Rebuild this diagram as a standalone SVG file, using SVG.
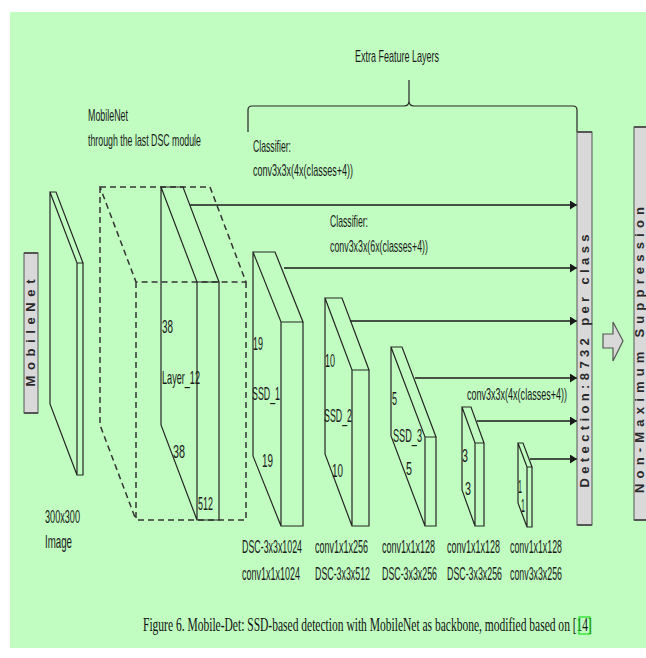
<svg xmlns="http://www.w3.org/2000/svg" width="646" height="658" viewBox="0 0 646 658">
  <defs>
    <marker id="head" markerUnits="userSpaceOnUse" markerWidth="8" markerHeight="9" refX="7" refY="4.5" orient="auto">
      <path d="M0,0 L7,4.5 L0,9 Z" fill="#1a1a1a"/>
    </marker>
    <style>
      .bg { fill: #c1fdc1; }
      .edge { fill: none; stroke: #262626; stroke-width: 1.2; stroke-linejoin: miter; }
      .dash { fill: none; stroke: #333; stroke-width: 1.5; stroke-dasharray: 6 4; }
      .flow { fill: none; stroke: #1a1a1a; stroke-width: 1.5; marker-end: url(#head); }
      .bar { fill: #d9d9d9; stroke: #555; stroke-width: 1; }
      .cap { fill: none; stroke: #555; stroke-width: 2.2; }
      .t { font-family: "Liberation Sans", Arial, sans-serif; font-size: 18px; fill: #1a1a1a; }
      .s { font-family: "Liberation Sans", Arial, sans-serif; font-size: 16px; fill: #1a1a1a; }
      .v { font-family: "Liberation Sans", Arial, sans-serif; font-size: 13px; font-weight: bold; fill: #2a2a2a; }
      .fig { font-family: "Liberation Serif", "Times New Roman", serif; font-size: 18px; fill: #111; }
    </style>
  </defs>

  <!-- page background -->
  <rect class="bg" x="10" y="12" width="636" height="636"/>

  <!-- headings (narrow lettering: horizontal scale 0.57) -->
  <g id="heading-extra">
    <text class="s" transform="translate(355,62) scale(0.57,1)" textLength="147.4" lengthAdjust="spacingAndGlyphs">Extra Feature Layers</text>
    <path class="edge" d="M248,132 L248,110 Q248,106 252,106 L404,106 Q409,106 409,101 L409,80 M409,101 Q409,106 414,106 L573,106 Q577,106 577,110 L577,132"/>
  </g>
  <g id="heading-mobilenet">
    <text class="s" transform="translate(88,121) scale(0.57,1)" textLength="70.2" lengthAdjust="spacingAndGlyphs">MobileNet</text>
    <text class="s" transform="translate(88,146) scale(0.57,1)" textLength="198.2" lengthAdjust="spacingAndGlyphs">through the last DSC module</text>
  </g>

  <!-- MobileNet side tag -->
  <g id="tag-mobilenet">
    <rect class="bar" x="24" y="253" width="14" height="160"/>
    <path class="cap" d="M24,253 H38 M24,413 H38"/>
    <text class="v" transform="translate(35,333) rotate(-90)" text-anchor="middle" textLength="107" lengthAdjust="spacing">MobileNet</text>
  </g>

  <!-- input image slab -->
  <g id="input-image">
    <path class="edge" d="M50,192 L56,192 L83,263 L77,263 Z M77,263 V475 H83 V263 M50,192 V404 L77,475"/>
    <text class="t" transform="translate(45,523) scale(0.57,1)" textLength="61.4" lengthAdjust="spacingAndGlyphs">300x300</text>
    <text class="t" transform="translate(45,548) scale(0.57,1)" textLength="47.4" lengthAdjust="spacingAndGlyphs">Image</text>
  </g>

  <!-- MobileNet trunk (dashed) -->
  <g id="mobilenet-trunk">
    <path class="dash" d="M100,187 L210,187 L246,282 L136,282 Z M136,282 V520 H246 V282 M100,187 V425 L136,520"/>
  </g>

  <!-- Layer_12 feature map -->
  <g id="layer12">
    <path class="edge" d="M161,187 L183,187 L219,282 L197,282 Z M197,282 V520 H219 V282 M161,187 V425 L197,520"/>
    <text class="t" transform="translate(162,333) scale(0.57,1)" textLength="19.3" lengthAdjust="spacingAndGlyphs">38</text>
    <text class="t" transform="translate(162,384) scale(0.57,1)" textLength="66.7" lengthAdjust="spacingAndGlyphs">Layer_12</text>
    <text class="t" transform="translate(173,458) scale(0.57,1)" textLength="21.1" lengthAdjust="spacingAndGlyphs">38</text>
    <text class="t" transform="translate(198,510) scale(0.57,1)" textLength="26.3" lengthAdjust="spacingAndGlyphs">512</text>
  </g>

  <!-- SSD_1 -->
  <g id="ssd1">
    <path class="edge" d="M253,252 L275,252 L303,322 L281,322 Z M281,322 V526 H303 V322 M253,252 V456 L281,526"/>
    <text class="t" transform="translate(253,350) scale(0.57,1)" textLength="17.5" lengthAdjust="spacingAndGlyphs">19</text>
    <text class="t" transform="translate(252,400) scale(0.57,1)" textLength="49.1" lengthAdjust="spacingAndGlyphs">SSD_1</text>
    <text class="t" transform="translate(262,467) scale(0.57,1)" textLength="19.3" lengthAdjust="spacingAndGlyphs">19</text>
    <text class="t" transform="translate(242,553) scale(0.57,1)" textLength="105.3" lengthAdjust="spacingAndGlyphs">DSC-3x3x1024</text>
    <text class="t" transform="translate(242,580) scale(0.57,1)" textLength="101.8" lengthAdjust="spacingAndGlyphs">conv1x1x1024</text>
  </g>

  <!-- SSD_2 -->
  <g id="ssd2">
    <path class="edge" d="M325,298 L342,298 L369,370 L352,370 Z M352,370 V526 H369 V370 M325,298 V454 L352,526"/>
    <text class="t" transform="translate(325,367) scale(0.57,1)" textLength="17.5" lengthAdjust="spacingAndGlyphs">10</text>
    <text class="t" transform="translate(324,422) scale(0.57,1)" textLength="49.1" lengthAdjust="spacingAndGlyphs">SSD_2</text>
    <text class="t" transform="translate(332,477) scale(0.57,1)" textLength="19.3" lengthAdjust="spacingAndGlyphs">10</text>
    <text class="t" transform="translate(315,553) scale(0.57,1)" textLength="93" lengthAdjust="spacingAndGlyphs">conv1x1x256</text>
    <text class="t" transform="translate(315,580) scale(0.57,1)" textLength="96.5" lengthAdjust="spacingAndGlyphs">DSC-3x3x512</text>
  </g>

  <!-- SSD_3 -->
  <g id="ssd3">
    <path class="edge" d="M391,347 L402,347 L436,437 L425,437 Z M425,437 V526 H436 V437 M391,347 V436 L425,526"/>
    <text class="t" transform="translate(392,405) scale(0.57,1)" textLength="8.8" lengthAdjust="spacingAndGlyphs">5</text>
    <text class="t" transform="translate(393,442) scale(0.57,1)" textLength="50.9" lengthAdjust="spacingAndGlyphs">SSD_3</text>
    <text class="t" transform="translate(406,475) scale(0.57,1)" textLength="10.5" lengthAdjust="spacingAndGlyphs">5</text>
    <text class="t" transform="translate(382,553) scale(0.57,1)" textLength="93" lengthAdjust="spacingAndGlyphs">conv1x1x128</text>
    <text class="t" transform="translate(382,580) scale(0.57,1)" textLength="96.5" lengthAdjust="spacingAndGlyphs">DSC-3x3x256</text>
  </g>

  <!-- 3x3 map -->
  <g id="map3">
    <path class="edge" d="M462,407 L471,407 L484,443 L475,443 Z M475,443 V526 H484 V443 M462,407 V490 L475,526"/>
    <text class="t" transform="translate(462,462) scale(0.57,1)" textLength="10.5" lengthAdjust="spacingAndGlyphs">3</text>
    <text class="t" transform="translate(465,495) scale(0.57,1)" textLength="10.5" lengthAdjust="spacingAndGlyphs">3</text>
    <text class="t" transform="translate(447,553) scale(0.57,1)" textLength="93" lengthAdjust="spacingAndGlyphs">conv1x1x128</text>
    <text class="t" transform="translate(447,580) scale(0.57,1)" textLength="96.5" lengthAdjust="spacingAndGlyphs">DSC-3x3x256</text>
  </g>

  <!-- 1x1 map -->
  <g id="map1">
    <path class="edge" d="M518,443 L523,443 L532,467 L527,467 Z M527,467 V527 H532 V467 M518,443 V503 L527,527"/>
    <text class="t" transform="translate(518,493) scale(0.57,1)" textLength="7" lengthAdjust="spacingAndGlyphs">1</text>
    <text class="t" transform="translate(521,512) scale(0.57,1)" textLength="7" lengthAdjust="spacingAndGlyphs">1</text>
    <text class="t" transform="translate(510,553) scale(0.57,1)" textLength="91.2" lengthAdjust="spacingAndGlyphs">conv1x1x128</text>
    <text class="t" transform="translate(510,580) scale(0.57,1)" textLength="91.2" lengthAdjust="spacingAndGlyphs">conv3x3x256</text>
  </g>

  <!-- classifier outputs into the detection stage -->
  <g id="connectors">
    <path class="flow" d="M190,205 H577"/>
    <path class="flow" d="M284,268 H577"/>
    <path class="flow" d="M350,321 H577"/>
    <path class="flow" d="M415,378 H577"/>
    <path class="flow" d="M477,421 H577"/>
    <path class="flow" d="M530,459 H577"/>
    <path d="M603,334 H613 V322 L623,341 L613,361 V348 H603 Z" fill="#d9d9d9" stroke="#555" stroke-width="1.2"/>
  </g>
  <g id="classifier-labels">
    <text class="s" transform="translate(253,152) scale(0.57,1)" textLength="66.7" lengthAdjust="spacingAndGlyphs">Classifier:</text>
    <text class="s" transform="translate(253,176) scale(0.57,1)" textLength="175.4" lengthAdjust="spacingAndGlyphs">conv3x3x(4x(classes+4))</text>
    <text class="s" transform="translate(330,227) scale(0.57,1)" textLength="66.7" lengthAdjust="spacingAndGlyphs">Classifier:</text>
    <text class="s" transform="translate(330,252) scale(0.57,1)" textLength="171.9" lengthAdjust="spacingAndGlyphs">conv3x3x(6x(classes+4))</text>
    <text class="s" transform="translate(467,400) scale(0.57,1)" textLength="175.4" lengthAdjust="spacingAndGlyphs">conv3x3x(4x(classes+4))</text>
  </g>

  <!-- detection stage -->
  <g id="detection">
    <rect class="bar" x="577" y="132" width="15" height="393"/>
    <path class="cap" d="M577,132 H592 M577,525 H592"/>
    <text class="v" transform="translate(589,361) rotate(-90)" text-anchor="middle" textLength="253" lengthAdjust="spacing">Detection:8732 per class</text>
  </g>

  <!-- non-maximum suppression stage -->
  <g id="nms">
    <rect class="bar" x="634" y="127" width="16" height="393"/>
    <path class="cap" d="M634,127 H646 M634,520 H646"/>
    <text class="v" transform="translate(644,350) rotate(-90)" text-anchor="middle" textLength="286" lengthAdjust="spacing">Non-Maximum Suppression</text>
  </g>

  <!-- caption -->
  <g id="caption">
    <text class="fig" transform="translate(143,631) scale(0.61,1)" textLength="736" lengthAdjust="spacingAndGlyphs">Figure 6. Mobile-Det: SSD-based detection with MobileNet as backbone, modified based on [14]</text>
    <rect x="579" y="617" width="11" height="17" fill="none" stroke="#1fe01f" stroke-width="1.2"/>
  </g>
</svg>
